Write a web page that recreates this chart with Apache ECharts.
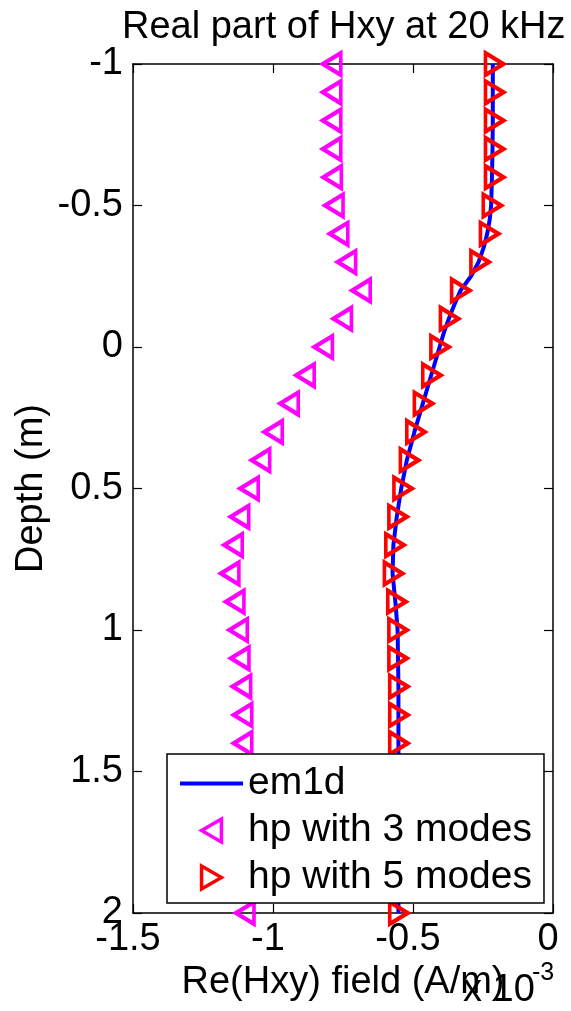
<!DOCTYPE html>
<html>
<head>
<meta charset="utf-8">
<script src="https://cdn.jsdelivr.net/npm/echarts@6/dist/echarts.min.js"></script>
<style>
html,body{margin:0;padding:0;background:#fff;}
#chart{width:571px;height:1011px;}
</style>
</head>
<body>
<div id="chart"></div>
<script>
// Depth (m) sample points for the hp series
var hpDepth = [-1.0,-0.9,-0.8,-0.7,-0.6,-0.5,-0.4,-0.3,-0.2,-0.1,0.0,0.1,0.2,0.3,0.4,0.5,0.6,0.7,0.8,0.9,1.0,1.1,1.2,1.3,1.4,1.5,1.6,1.7,1.8,1.9,2.0];
// Re(Hxy) in units of 1e-3 A/m
var hp3Modes = [-0.790,-0.790,-0.790,-0.790,-0.788,-0.782,-0.765,-0.737,-0.685,-0.752,-0.820,-0.885,-0.942,-0.999,-1.044,-1.085,-1.119,-1.142,-1.154,-1.136,-1.124,-1.118,-1.112,-1.108,-1.108,-1.106,-1.105,-1.104,-1.103,-1.102,-1.100];
var hp5Modes = [-0.209,-0.209,-0.209,-0.209,-0.209,-0.217,-0.227,-0.261,-0.330,-0.370,-0.404,-0.433,-0.463,-0.490,-0.513,-0.536,-0.554,-0.565,-0.570,-0.558,-0.554,-0.554,-0.551,-0.551,-0.551,-0.551,-0.551,-0.551,-0.551,-0.551,-0.551];
// em1d reference curve
var emDepth = [-1.0,-0.9,-0.8,-0.7,-0.6,-0.5,-0.45,-0.4,-0.35,-0.3,-0.25,-0.2,-0.15,-0.1,-0.05,0.0,0.1,0.2,0.3,0.4,0.5,0.6,0.7,0.8,0.9,1.0,1.2,1.4,1.6,1.8,2.0];
var emValue = [-0.215,-0.215,-0.215,-0.216,-0.218,-0.221,-0.226,-0.235,-0.248,-0.266,-0.293,-0.330,-0.352,-0.372,-0.390,-0.405,-0.435,-0.465,-0.495,-0.522,-0.542,-0.558,-0.570,-0.573,-0.563,-0.555,-0.552,-0.552,-0.552,-0.552,-0.552];
var seriesNames = ['em1d','hp with 3 modes','hp with 5 modes'];

var FONT = 'Liberation Sans, Arial, sans-serif';
var FS = 38;
var BLUE = '#0000ff', MAGENTA = '#ff00ff', RED = '#ff0000';

function pairs(xs, ys){ return xs.map(function(x,i){ return [x, ys[i]]; }); }

var chart = echarts.init(document.getElementById('chart'), null, {renderer:'canvas'});
var axisLine = {show:true, onZero:false, lineStyle:{color:'#000', width:1.5}};
var tick = {show:true, inside:true, length:9, lineStyle:{color:'#000', width:1.2}};
var lbl = {color:'#000', fontSize:FS, fontFamily:FONT};

chart.setOption({
  backgroundColor:'#fff',
  animation:false,
  title:{
    text:'Real part of Hxy at 20 kHz',
    left:117, top:4,
    textStyle:{color:'#000', fontSize:38, fontWeight:'normal', fontFamily:FONT}
  },
  grid:{left:133, right:18, top:64, bottom:98, containLabel:false},
  xAxis:[{
    type:'value', position:'bottom', min:-1.5, max:0, interval:0.5,
    axisLine:axisLine, axisTick:tick, splitLine:{show:false},
    axisLabel:Object.assign({margin:8, padding:[0,10,0,0], formatter:function(v){return String(v);}}, lbl),
    name:'Re(Hxy) field (A/m)', nameLocation:'middle', nameGap:50,
    nameTextStyle:{color:'#000', fontSize:FS, fontFamily:FONT}
  },{
    type:'value', position:'top', min:-1.5, max:0, interval:0.5,
    axisLine:axisLine, axisTick:tick, splitLine:{show:false}, axisLabel:{show:false}
  }],
  yAxis:[{
    type:'value', position:'left', inverse:true, min:-1, max:2, interval:0.5,
    axisLine:axisLine, axisTick:tick, splitLine:{show:false},
    axisLabel:Object.assign({margin:10}, lbl),
    name:'Depth (m)', nameLocation:'middle', nameGap:82, nameRotate:90, nameMoveOverlap:false,
    nameTextStyle:{color:'#000', fontSize:FS, fontFamily:FONT}
  },{
    type:'value', position:'right', inverse:true, min:-1, max:2, interval:0.5,
    axisLine:axisLine, axisTick:tick, splitLine:{show:false}, axisLabel:{show:false}
  }],
  legend:{
    orient:'vertical', left:167, top:754, z:10,
    backgroundColor:'#fff', borderColor:'#000', borderWidth:1.5, borderRadius:0,
    padding:[6,12,2,13], itemGap:0, itemWidth:63, itemHeight:23,
    symbolKeepAspect:true,
    textStyle:{color:'#000', fontSize:39, fontFamily:FONT, lineHeight:47},
    data:[
      {name:seriesNames[0], icon:'path://M0,0 L63,0 L63,4 L0,4 Z',
       itemStyle:{color:BLUE, borderWidth:0}},
      {name:seriesNames[1], icon:'path://M0,11 L19,0 L19,22 Z',
       itemStyle:{color:'rgba(0,0,0,0)', borderColor:MAGENTA, borderWidth:3.5}},
      {name:seriesNames[2], icon:'path://M19,11 L0,0 L0,22 Z',
       itemStyle:{color:'rgba(0,0,0,0)', borderColor:RED, borderWidth:3.5}}
    ]
  },
  graphic:[
    {type:'text', left:463, top:972, z:20, style:{text:'x 10', fontSize:FS, fontFamily:FONT, fill:'#000'}},
    {type:'text', left:532, top:961, z:20, style:{text:'-3', fontSize:25, fontFamily:FONT, fill:'#000'}}
  ],
  series:[
    {
      name:seriesNames[0], type:'line', data:pairs(emValue, emDepth), symbol:'none', smooth:false,
      lineStyle:{color:BLUE, width:4}, itemStyle:{color:BLUE}, z:2
    },
    {
      name:seriesNames[1], type:'scatter', data:pairs(hp3Modes, hpDepth),
      symbol:'triangle', symbolSize:[22,18], symbolRotate:90,
      itemStyle:{color:'rgba(0,0,0,0)', borderColor:MAGENTA, borderWidth:4, opacity:1}, z:2
    },
    {
      name:seriesNames[2], type:'scatter', data:pairs(hp5Modes, hpDepth),
      symbol:'triangle', symbolSize:[22,18], symbolRotate:-90,
      itemStyle:{color:'rgba(0,0,0,0)', borderColor:RED, borderWidth:4, opacity:1}, z:2
    }
  ]
});
</script>
</body>
</html>
